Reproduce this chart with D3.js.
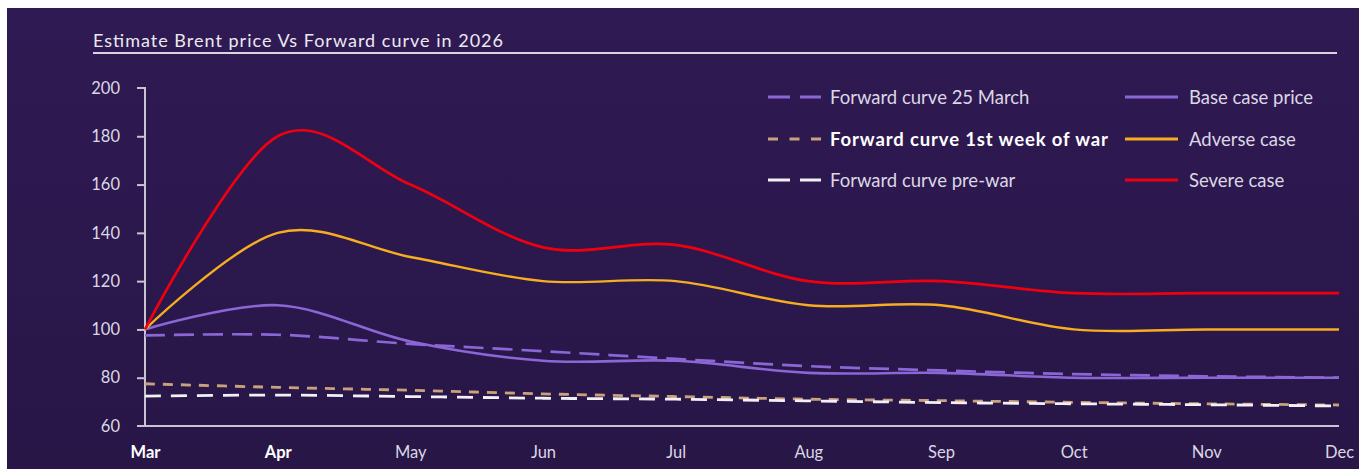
<!DOCTYPE html>
<html>
<head>
<meta charset="utf-8">
<script src="https://cdn.jsdelivr.net/npm/d3@7"></script>
<style>
  html, body { margin: 0; padding: 0; background: #ffffff; }
  svg { display: block; }
</style>
</head>
<body>
<svg id="chart" width="1361" height="469"></svg>
<script>
// ---- Data ----
const months = ["Mar", "Apr", "May", "Jun", "Jul", "Aug", "Sep", "Oct", "Nov", "Dec"];
const boldMonths = ["Mar", "Apr"];
const yTicks = [60, 80, 100, 120, 140, 160, 180, 200];

const forward25March = [97.5, 97.8, 94.0, 91.0, 87.8, 84.8, 83.0, 81.5, 80.6, 80.0];
const forward1stWeek = [77.5, 76.0, 74.8, 73.3, 72.2, 71.1, 70.5, 69.8, 69.2, 68.7];
const forwardPreWar  = [72.4, 72.8, 72.2, 71.5, 71.1, 70.4, 69.7, 69.2, 68.8, 68.3];
const baseCase       = [100, 110, 95, 87, 87, 82, 82, 80, 80, 80];
const adverseCase    = [100, 140, 130, 120, 120, 110, 110, 100, 100, 100];
const severeCase     = [100, 180, 160, 134, 135, 120, 120, 115, 115, 115];

const seriesNames = [
  "Forward curve 25 March", "Forward curve 1st week of war", "Forward curve pre-war",
  "Base case price", "Adverse case", "Severe case"
];
const title = "Estimate Brent price Vs Forward curve in 2026";

// ---- Styles ----
const series = [
  { name: seriesNames[0], values: forward25March, color: "#8b66d6", dash: "20,9", width: 2.7, bold: false },
  { name: seriesNames[1], values: forward1stWeek, color: "#c9a27c", dash: "10,8", width: 2.8, bold: true },
  { name: seriesNames[2], values: forwardPreWar,  color: "#f2f0f5", dash: "16,10", width: 2.8, bold: false },
  { name: seriesNames[3], values: baseCase,       color: "#8b66d6", dash: null, width: 2.6, bold: false },
  { name: seriesNames[4], values: adverseCase,    color: "#f6ad1f", dash: null, width: 2.4, bold: false },
  { name: seriesNames[5], values: severeCase,     color: "#f0000f", dash: null, width: 2.7, bold: false }
];

const svg = d3.select("#chart");
const defs = svg.append("defs");
const grad = defs.append("linearGradient").attr("id", "bg").attr("x1", 0).attr("y1", 0).attr("x2", 0).attr("y2", 1);
grad.append("stop").attr("offset", "0%").attr("stop-color", "#2f1a53");
grad.append("stop").attr("offset", "100%").attr("stop-color", "#281647");

svg.append("rect").attr("x", 7).attr("y", 8).attr("width", 1352).attr("height", 461).attr("fill", "url(#bg)");

const font = "Lato, 'Open Sans', sans-serif";
const textColor = "#dcd7e4";

// Title
svg.append("text").attr("x", 93).attr("y", 47)
  .attr("fill", "#ece9f1").attr("font-family", font).attr("font-size", 18)
  .attr("textLength", 410).attr("lengthAdjust", "spacing")
  .text(title);
svg.append("line").attr("x1", 93).attr("x2", 1337).attr("y1", 53).attr("y2", 53)
  .attr("stroke", "#d9d4e2").attr("stroke-width", 2);

// Scales
const x = d3.scalePoint().domain(months).range([145, 1339]);
const y = d3.scaleLinear().domain([60, 200]).range([426, 88]);

// Y axis
const yAxis = d3.axisLeft(y).tickValues(yTicks).tickSize(8).tickPadding(17);
const gy = svg.append("g").attr("transform", "translate(145,0)").call(yAxis);
gy.select(".domain").attr("stroke", "#c9c4d2").attr("stroke-width", 2).attr("d", "M-8,88H0V426");
gy.selectAll(".tick line").attr("stroke", "#c9c4d2").attr("stroke-width", 2);
gy.selectAll(".tick").filter(d => d === 60).select("line").remove();
gy.selectAll(".tick").filter(d => d === 200).select("line").remove();
gy.selectAll("text").attr("fill", textColor).attr("font-family", font).attr("font-size", 16.5);

// X axis
const xAxis = d3.axisBottom(x).tickSize(0).tickPadding(20);
const gx = svg.append("g").attr("transform", "translate(0,426)").call(xAxis);
gx.select(".domain").attr("stroke", "#c9c4d2").attr("stroke-width", 2).attr("d", "M137,0H1339");
gx.selectAll("text").attr("font-family", font).attr("font-size", 16.5)
  .attr("font-weight", d => boldMonths.includes(d) ? "bold" : "normal")
  .attr("fill", d => boldMonths.includes(d) ? "#ffffff" : textColor);

// Lines
const line = d3.line()
  .x((d, i) => x(months[i]))
  .y(d => y(d))
  .curve(d3.curveCardinal.tension(0));

series.forEach(s => {
  svg.append("path")
    .datum(s.values)
    .attr("d", line)
    .attr("fill", "none")
    .attr("stroke", s.color)
    .attr("stroke-width", s.width)
    .attr("stroke-dasharray", s.dash)
    .attr("stroke-linejoin", "round");
});

// Legend
const legendPos = [
  { sx: 768, tx: 830, y: 97 },
  { sx: 768, tx: 830, y: 139 },
  { sx: 768, tx: 830, y: 180 },
  { sx: 1125, tx: 1189, y: 97 },
  { sx: 1125, tx: 1189, y: 139 },
  { sx: 1125, tx: 1189, y: 180 }
];
series.forEach((s, i) => {
  const p = legendPos[i];
  svg.append("line").attr("x1", p.sx).attr("x2", p.sx + 53).attr("y1", p.y).attr("y2", p.y)
    .attr("stroke", s.color).attr("stroke-width", 3)
    .attr("stroke-dasharray", s.dash ? (i === 1 ? "10,11.5" : "22,10") : null);
  const t = svg.append("text").attr("x", p.tx).attr("y", p.y + 6.5)
    .attr("fill", s.bold ? "#ffffff" : textColor)
    .attr("font-family", font).attr("font-size", 18.5)
    .attr("font-weight", s.bold ? "bold" : "normal")
    .text(s.name);
  if (s.bold) t.attr("textLength", 278).attr("lengthAdjust", "spacing");
});
</script>
</body>
</html>
